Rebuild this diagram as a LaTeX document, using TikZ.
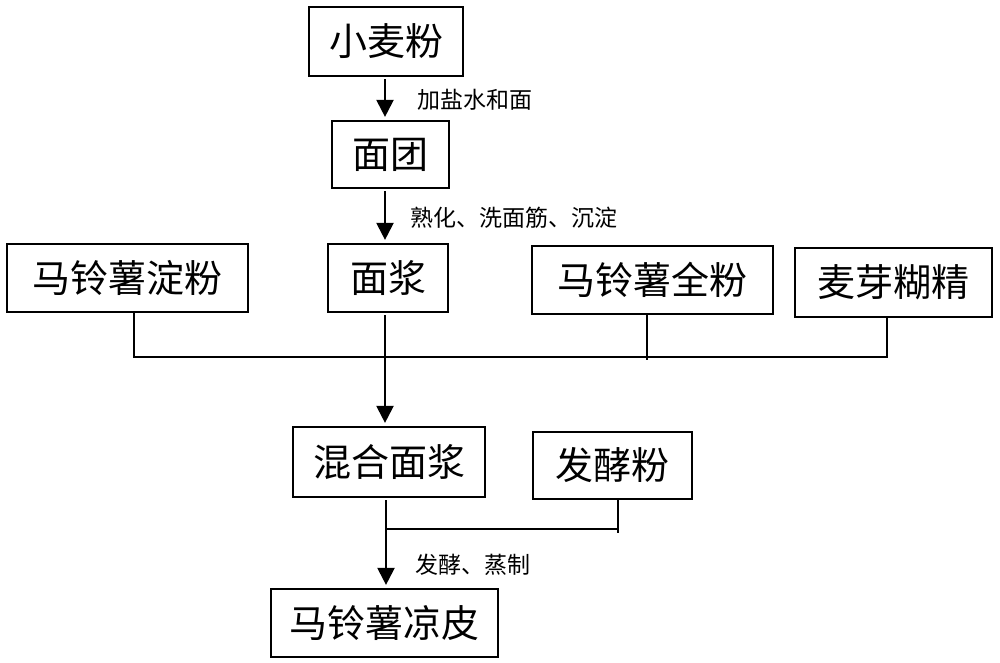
\documentclass[tikz,border=0pt]{standalone}
\usepackage{fontspec}
\setmainfont{Noto Sans CJK SC}
\usetikzlibrary{arrows.meta,calc}
\begin{document}
\begin{tikzpicture}[x=0.5pt,y=-0.5pt,
  box/.style={draw,line width=1.1pt,inner sep=0pt,font=\fontsize{19pt}{21pt}\selectfont},
  arr/.style={line width=1.1pt,-{Triangle[width=8.5pt,length=8.5pt]},shorten <=1pt,shorten >=1.5pt},
  ln/.style={line width=0.8pt},
  lab/.style={font=\fontsize{11.5pt}{13pt}\selectfont,anchor=west,inner sep=0pt}]
\useasboundingbox (0,0) rectangle (1000,663);
\node[box,minimum width=77pt,minimum height=34.5pt] (xmf) at (386,41.5) {小麦粉};
\node[box,minimum width=58.5pt,minimum height=33.5pt] (mt) at (390.5,154.5) {面团};
\node[box,minimum width=60pt,minimum height=34pt] (mj) at (388,278) {面浆};
\node[box,minimum width=120.5pt,minimum height=34pt] (dfen) at (127.5,278) {马铃薯淀粉};
\node[box,minimum width=120.5pt,minimum height=34pt] (qf) at (652.5,280) {马铃薯全粉};
\node[box,minimum width=98.5pt,minimum height=34.5pt] (myhj) at (893.5,282.5) {麦芽糊精};
\node[box,minimum width=96pt,minimum height=35pt] (hh) at (389,462) {混合面浆};
\node[box,minimum width=79.5pt,minimum height=33.5pt] (fjf) at (612.5,465.5) {发酵粉};
\node[box,minimum width=113.5pt,minimum height=34pt] (lp) at (384.5,623) {马铃薯凉皮};
\coordinate (j1) at (385,357);
\coordinate (j2) at (385,529);
% arrows
\draw[arr] (xmf.south -| 385,0) -- (mt.north -| 385,0);
\node[lab] (l1) at (417,100) {加盐水和面};
\draw[arr] (mt.south -| 385,0) -- (mj.north -| 385,0);
\node[lab] (l2) at (410,218) {熟化、洗面筋、沉淀};
\draw[arr] (mj.south -| 385,0) -- (hh.north -| 385,0);
\draw[ln] (dfen.south -| 134,0) -- (134,357) -- (j1);
\draw[ln] (qf.south -| 647,0) -- (647,360);
\draw[ln] (myhj.south -| 887,0) -- (887,357) -- (j1);
\draw[arr] (hh.south -| 386,0) -- (lp.north -| 386,0);
\draw[ln] (fjf.south -| 618,0) -- (618,533);
\draw[ln] (618,529) -- (j2);
\node[lab] (l3) at (415,565) {发酵、蒸制};
\end{tikzpicture}
\end{document}
